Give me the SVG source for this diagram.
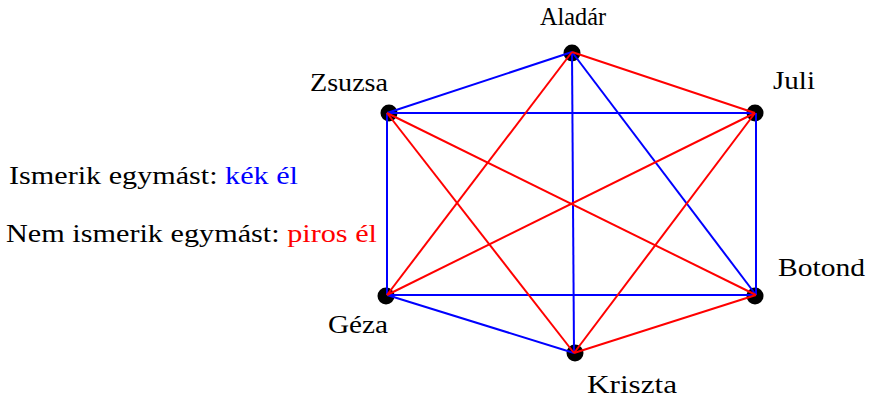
<svg xmlns="http://www.w3.org/2000/svg" width="869" height="397" viewBox="0 0 869 397">
<style>
text{font-family:"Liberation Serif","DejaVu Serif",serif;font-size:25px;fill:#000}
.b{stroke:#0000ff;stroke-width:2;fill:none}
.r{stroke:#ff0000;stroke-width:2;fill:none}
.dot{fill:#000}
</style>
<rect width="869" height="397" fill="#fff"/>
<g id="nodes-dots">
<g id="aladar"><circle class="dot" cx="572" cy="53" r="8.5"/><text x="540" y="25" textLength="66" lengthAdjust="spacingAndGlyphs">Aladár</text></g>
<g id="juli"><circle class="dot" cx="755" cy="113" r="8.5"/><text x="773" y="89" textLength="42" lengthAdjust="spacingAndGlyphs">Juli</text></g>
<g id="botond"><circle class="dot" cx="755" cy="296" r="8.5"/><text x="778" y="276" textLength="87" lengthAdjust="spacingAndGlyphs">Botond</text></g>
<g id="kriszta"><circle class="dot" cx="575" cy="353" r="8.5"/><text x="587" y="393" textLength="90" lengthAdjust="spacingAndGlyphs">Kriszta</text></g>
<g id="geza"><circle class="dot" cx="386" cy="296" r="8.5"/><text x="328" y="333" textLength="60" lengthAdjust="spacingAndGlyphs">Géza</text></g>
<g id="zsuzsa"><circle class="dot" cx="389" cy="113" r="8.5"/><text x="310" y="91" textLength="78" lengthAdjust="spacingAndGlyphs">Zsuzsa</text></g>
</g>
<g id="connectors">
<line class="b" x1="572" y1="52" x2="387" y2="113"/>
<line class="b" x1="572" y1="52" x2="574" y2="353"/>
<line class="b" x1="572" y1="52" x2="756" y2="295"/>
<line class="b" x1="387" y1="113" x2="755" y2="113"/>
<line class="b" x1="387" y1="113" x2="387" y2="295"/>
<line class="b" x1="756" y1="113" x2="756" y2="295"/>
<line class="b" x1="387" y1="295" x2="756" y2="295"/>
<line class="b" x1="387" y1="295" x2="574" y2="353"/>
<line class="r" x1="572" y1="52" x2="755" y2="113"/>
<line class="r" x1="572" y1="52" x2="387" y2="295"/>
<line class="r" x1="387" y1="113" x2="574" y2="353"/>
<line class="r" x1="387" y1="113" x2="756" y2="295"/>
<line class="r" x1="755" y1="113" x2="387" y2="295"/>
<line class="r" x1="755" y1="113" x2="574" y2="353"/>
<line class="r" x1="756" y1="295" x2="574" y2="353"/>
</g>
<g id="legend">
<text x="9" y="184" textLength="289" lengthAdjust="spacingAndGlyphs">Ismerik egymást: <tspan fill="#0000ff">kék él</tspan></text>
<text x="6" y="242" textLength="371" lengthAdjust="spacingAndGlyphs">Nem ismerik egymást: <tspan fill="#ff0000">piros él</tspan></text>
</g>
</svg>
